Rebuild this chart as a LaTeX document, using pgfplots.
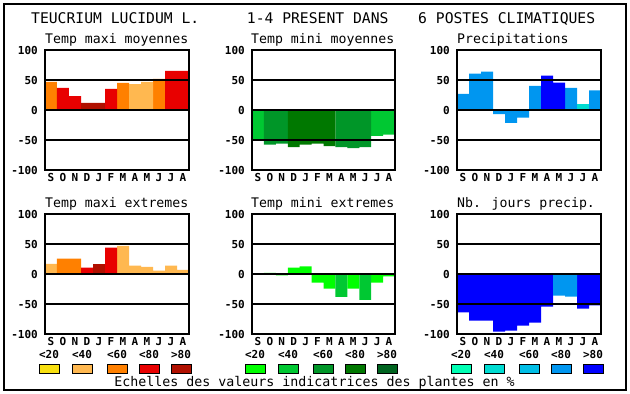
\documentclass[border=0pt]{standalone}
\usepackage{pgfplots}
\pgfplotsset{compat=1.18}
\usepackage{fontspec}
\setmainfont{DejaVu Sans Mono}
\setmonofont{DejaVu Sans Mono}
\definecolor{c1}{HTML}{F8E010}
\definecolor{c2}{HTML}{FFB850}
\definecolor{c3}{HTML}{FF8000}
\definecolor{c4}{HTML}{E80000}
\definecolor{c5}{HTML}{B01000}
\definecolor{g1}{HTML}{00FF00}
\definecolor{g2}{HTML}{00C832}
\definecolor{g3}{HTML}{009628}
\definecolor{g4}{HTML}{007800}
\definecolor{g5}{HTML}{006420}
\definecolor{b1}{HTML}{00FFB4}
\definecolor{b2}{HTML}{00DCD2}
\definecolor{b3}{HTML}{00BEE6}
\definecolor{b4}{HTML}{0096F0}
\definecolor{b5}{HTML}{0000FF}
\pgfplotsset{
  panel/.style={
    scale only axis, width=144pt, height=120pt,
    anchor=south west,
    xmin=-0.5, xmax=11.5, ymin=-100, ymax=100,
    xtick={0,...,11}, xticklabels={S,O,N,D,J,F,M,A,M,J,J,A},
    ytick={-100,-50,0,50,100}, yticklabels={-100,-50,0,50,100},
    major tick length=0pt,
    ymajorgrids, major grid style={black, line width=1.2pt},
    axis on top,
    axis line style={black, line width=1.2pt},
    tick label style={font=\fontsize{11}{11}\selectfont\bfseries},
    yticklabel style={anchor=east, inner sep=0pt, xshift=-7pt},
    xticklabel style={anchor=north, inner sep=0pt, yshift=-3pt},
  },
  mybar/.style={ybar, bar width=1, draw=none, fill=#1},
}
\tikzset{
  ttl/.style={anchor=base west, inner sep=0pt, font=\fontsize{13.2}{13.2}\selectfont},
  big/.style={anchor=base west, inner sep=0pt, font=\fontsize{14.7}{14.7}\selectfont},
  leg/.style={anchor=base, inner sep=0pt, font=\fontsize{11}{11}\selectfont\bfseries},
}
\begin{document}
\begin{tikzpicture}[x=1pt,y=1pt]
\useasboundingbox (0,0) rectangle (630,394);
\draw[line width=1.5pt] (4,4) rectangle (626,390);
\node[big] at (31,370.7) {TEUCRIUM LUCIDUM L.};
\node[big] at (246.7,370.7) {1-4 PRESENT DANS};
\node[big] at (418,370.7) {6 POSTES CLIMATIQUES};

% Panel 1: Temp maxi moyennes
\begin{axis}[panel, at={(45pt,224pt)}]
\addplot[mybar=c3] coordinates {(0,47) (6,45) (9,52)};
\addplot[mybar=c4] coordinates {(1,37) (2,23) (5,35) (10,65) (11,65)};
\addplot[mybar=c5] coordinates {(3,12) (4,12)};
\addplot[mybar=c2] coordinates {(7,43) (8,47)};
\end{axis}
\node[ttl] at (45,350.7) {Temp maxi moyennes};

% Panel 2: Temp mini moyennes
\begin{axis}[panel, width=143pt, at={(252pt,224pt)}]
\addplot[mybar=g2] coordinates {(0,-49.5) (10,-43) (11,-41)};
\addplot[mybar=g3] coordinates {(1,-57.7) (2,-56) (7,-62) (8,-63.7) (9,-62)};
\addplot[mybar=g4] coordinates {(3,-62) (4,-57.7) (5,-56) (6,-60.4)};
\end{axis}
\node[ttl] at (251,350.7) {Temp mini moyennes};

% Panel 3: Precipitations
\begin{axis}[panel, at={(457pt,224pt)}]
\addplot[mybar=b4] coordinates {(0,27) (1,60.7) (2,64) (3,-6.7) (4,-21.3) (5,-12.9) (6,40.4) (9,37) (11,32.6)};
\addplot[mybar=b5] coordinates {(7,57.3) (8,45.5)};
\addplot[mybar=b2] coordinates {(10,10)};
\end{axis}
\node[ttl] at (457,350.7) {Precipitations};

% Panel 4: Temp maxi extremes
\begin{axis}[panel, at={(45pt,60pt)}]
\addplot[mybar=c2] coordinates {(0,17) (6,47) (7,14) (8,12) (9,5.5) (10,14) (11,7)};
\addplot[mybar=c3] coordinates {(1,25.5) (2,25.5)};
\addplot[mybar=c4] coordinates {(3,10.5) (5,44)};
\addplot[mybar=c5] coordinates {(4,17)};
\end{axis}
\node[ttl] at (45,186.7) {Temp maxi extremes};

% Panel 5: Temp mini extremes
\begin{axis}[panel, width=143pt, at={(252pt,60pt)}]
\addplot[mybar=g1] coordinates {(1,2) (2,-2.5) (3,10.5) (4,12.5) (5,-14.5) (6,-24.5) (8,-24.5) (10,-14.5) (11,-4)};
\addplot[mybar=g2] coordinates {(7,-38) (9,-43)};
\end{axis}
\node[ttl] at (251,186.7) {Temp mini extremes};

% Panel 6: Nb. jours precip.
\begin{axis}[panel, at={(457pt,60pt)}]
\addplot[mybar=b5] coordinates {(0,-63.9) (1,-77.8) (2,-77.8) (3,-96.1) (4,-94.4) (5,-86) (6,-81) (7,-54.4) (10,-57.8) (11,-52.2)};
\addplot[mybar=b4] coordinates {(8,-36) (9,-37.8)};
\end{axis}
\node[ttl] at (457,186.7) {Nb. jours precip.};

% Legends
\foreach \x/\c/\l in {0/c1/{<20},33/c2/{<40},68/c3/{<60},100/c4/{<80},132/c5/{>80}}{
  \node[leg] at (49+\x,35.8) {\l};
  \filldraw[fill=\c, draw=black, line width=1pt] (39+\x,20.7) rectangle (59+\x,29.7);
}
\foreach \x/\c/\l in {0/g1/{<20},33/g2/{<40},68/g3/{<60},100/g4/{<80},132/g5/{>80}}{
  \node[leg] at (255+\x,35.8) {\l};
  \filldraw[fill=\c, draw=black, line width=1pt] (245+\x,20.7) rectangle (265+\x,29.7);
}
\foreach \x/\c/\l in {0/b1/{<20},33/b2/{<40},68/b3/{<60},100/b4/{<80},132/b5/{>80}}{
  \node[leg] at (461+\x,35.8) {\l};
  \filldraw[fill=\c, draw=black, line width=1pt] (451+\x,20.7) rectangle (471+\x,29.7);
}
\node[anchor=base, inner sep=0pt, font=\fontsize{13.3}{13.3}\selectfont] at (314.5,7.5) {Echelles des valeurs indicatrices des plantes en \%};
\end{tikzpicture}
\end{document}
